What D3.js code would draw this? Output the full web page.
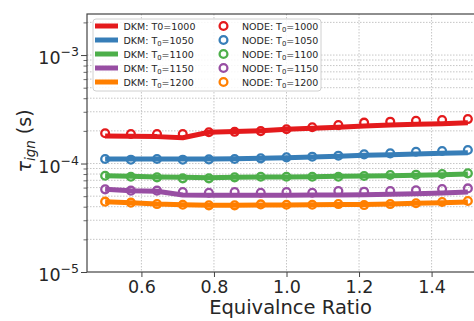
<!DOCTYPE html>
<html><head><meta charset="utf-8">
<script src="https://cdn.jsdelivr.net/npm/d3@7"></script>
<style>
body{margin:0;background:#fff}
svg{display:block}
text{font-family:"DejaVu Sans",sans-serif;fill:#262626}
</style></head>
<body><svg id="c" width="474" height="321"></svg>
<script>
// ---- data ----
const phi = [0.5, 0.571, 0.643, 0.714, 0.786, 0.857, 0.929, 1.0, 1.071, 1.143, 1.214, 1.286, 1.357, 1.429, 1.5];
const temps = [1000, 1050, 1100, 1150, 1200];
const colors = ["#e41a1c", "#377eb8", "#4daf4a", "#984ea3", "#ff7f00"];
const dkm1000 = [1.79,1.78,1.77,1.73,1.94,1.97,2.01,2.07,2.11,2.16,2.22,2.26,2.30,2.33,2.38].map(v=>v*1e-4);
const dkm1050 = [1.100,1.100,1.100,1.100,1.100,1.108,1.116,1.132,1.148,1.164,1.189,1.206,1.223,1.241,1.258].map(v=>v*1e-4);
const dkm1100 = [0.772,0.762,0.751,0.746,0.740,0.746,0.751,0.751,0.756,0.762,0.767,0.772,0.778,0.789,0.800].map(v=>v*1e-4);
const dkm1150 = [0.578,0.562,0.556,0.513,0.510,0.510,0.510,0.510,0.512,0.514,0.516,0.520,0.526,0.536,0.546].map(v=>v*1e-4);
const dkm1200 = [0.445,0.436,0.423,0.417,0.4115,0.4115,0.414,0.414,0.417,0.420,0.420,0.423,0.430,0.436,0.442].map(v=>v*1e-4);
const node1000 = [1.90,1.87,1.87,1.87,1.94,1.96,1.99,2.07,2.16,2.26,2.38,2.43,2.48,2.52,2.57].map(v=>v*1e-4);
const node1050 = [1.100,1.085,1.100,1.085,1.092,1.100,1.116,1.140,1.156,1.181,1.215,1.241,1.285,1.304,1.331].map(v=>v*1e-4);
const node1100 = [0.772,0.756,0.746,0.730,0.730,0.746,0.756,0.756,0.756,0.756,0.767,0.783,0.789,0.800,0.812].map(v=>v*1e-4);
const node1150 = [0.578,0.562,0.562,0.546,0.538,0.546,0.538,0.546,0.538,0.558,0.550,0.558,0.566,0.582,0.590].map(v=>v*1e-4);
const node1200 = [0.445,0.436,0.423,0.417,0.4115,0.4115,0.420,0.417,0.417,0.423,0.414,0.423,0.430,0.442,0.451].map(v=>v*1e-4);
const dkmSeries = [dkm1000, dkm1050, dkm1100, dkm1150, dkm1200];
const nodeSeries = [node1000, node1050, node1100, node1150, node1200];
const dkmLabels = ["DKM: T0=1000", "DKM: T_0=1050", "DKM: T_0=1100", "DKM: T_0=1150", "DKM: T_0=1200"];
const nodeLabels = ["NODE: T_0=1000", "NODE: T_0=1050", "NODE: T_0=1100", "NODE: T_0=1150", "NODE: T_0=1200"];
const xTicks = [0.6, 0.8, 1.0, 1.2, 1.4];
const xTickLabels = ["0.6", "0.8", "1.0", "1.2", "1.4"];
const yMajor = [1e-5, 1e-4, 1e-3];
const yExponents = ["\u22125", "\u22124", "\u22123"];
const yMinor = [2e-5,3e-5,4e-5,5e-5,6e-5,7e-5,8e-5,9e-5,2e-4,3e-4,4e-4,5e-4,6e-4,7e-4,8e-4,9e-4,2e-3];
const xDomain = [0.45, 1.55];
const yDomain = [1e-5, 2.39e-3];

// ---- layout ----
const L = 87, R = 486, T = 14, B = 272;
const svg = d3.select("#c");
const x = d3.scaleLinear(xDomain, [L, R]);
const y = d3.scaleLog(yDomain, [B, T]);

// grid
const grid = svg.append("g").attr("stroke", "#b8b8b8").attr("stroke-width", 0.8).attr("stroke-dasharray", "1.5,1.5");
grid.selectAll("line.gx").data(xTicks).join("line")
  .attr("x1", d => x(d)).attr("x2", d => x(d)).attr("y1", T).attr("y2", B);
grid.selectAll("line.gy").data(yMajor.concat(yMinor).filter(v => v > yDomain[0] && v < yDomain[1])).join("line")
  .attr("y1", d => y(d)).attr("y2", d => y(d)).attr("x1", L).attr("x2", R);

// clip
svg.append("clipPath").attr("id", "clip").append("rect").attr("x", L).attr("y", T).attr("width", R - L).attr("height", B - T);
const plot = svg.append("g");

const line = d3.line().x((d, i) => x(phi[i])).y(d => y(d));
dkmSeries.forEach((s, k) => {
  plot.append("path").datum(s).attr("d", line)
    .attr("fill", "none").attr("stroke", colors[k]).attr("stroke-width", 5)
    .attr("stroke-linejoin", "round").attr("stroke-linecap", "butt");
});
nodeSeries.forEach((s, k) => {
  plot.append("g").selectAll("circle").data(s).join("circle")
    .attr("cx", (d, i) => x(phi[i])).attr("cy", d => y(d)).attr("r", 3.9)
    .attr("fill", "none").attr("stroke", colors[k]).attr("stroke-width", 2.3);
});

// axes
const axCol = "#444";
const xAxis = svg.append("g").attr("transform", `translate(0,${B})`)
  .call(d3.axisBottom(x).tickValues(xTicks).tickFormat((d, i) => xTickLabels[i]).tickSize(5).tickPadding(4));
xAxis.select(".domain").remove();
xAxis.selectAll("line").attr("stroke", axCol).attr("stroke-width", 1);
xAxis.selectAll("text").attr("font-size", 17.5).attr("font-family", "DejaVu Sans").attr("fill", "#262626");

const yMinAxis = svg.append("g").attr("transform", `translate(${L},0)`)
  .call(d3.axisLeft(y).tickValues(yMinor.filter(v => v < yDomain[1])).tickFormat("").tickSize(3.5));
yMinAxis.select(".domain").remove();
yMinAxis.selectAll("line").attr("stroke", axCol).attr("stroke-width", 0.8);

const yMajAxis = svg.append("g").attr("transform", `translate(${L},0)`)
  .call(d3.axisLeft(y).tickValues(yMajor).tickFormat("").tickSize(6));
yMajAxis.select(".domain").remove();
yMajAxis.selectAll("line").attr("stroke", axCol).attr("stroke-width", 1);
yMajAxis.selectAll(".tick").each(function(d, i) {
  const t = d3.select(this).append("text").attr("x", -8).attr("y", 8.5)
    .attr("text-anchor", "end").attr("font-size", 17.5);
  t.append("tspan").text("10");
  t.append("tspan").attr("font-size", 12.5).attr("dy", -8).text(yExponents[i]);
});

// spines
svg.append("rect").attr("x", L).attr("y", T).attr("width", R - L).attr("height", B - T)
  .attr("fill", "none").attr("stroke", axCol).attr("stroke-width", 1.2);

// axis labels
svg.append("text").attr("x", (L + R) / 2 + 4).attr("y", 314).attr("text-anchor", "middle")
  .attr("font-size", 19.5).text("Equivalnce Ratio");
const yl = svg.append("text").attr("transform", `translate(31,${(T + B) / 2 - 2}) rotate(-90)`)
  .attr("text-anchor", "middle").attr("font-size", 19);
yl.append("tspan").attr("font-style", "italic").text("\u03c4");
yl.append("tspan").attr("font-style", "italic").attr("font-size", 13.5).attr("dy", 4).text("ign");
yl.append("tspan").attr("dy", -4).text(" (s)");

// legend
const lg = svg.append("g");
lg.append("rect").attr("x", 93).attr("y", 19).attr("width", 228).attr("height", 72).attr("rx", 3)
  .attr("fill", "#fff").attr("fill-opacity", 0.85).attr("stroke", "#d0d0d0").attr("stroke-width", 1);
function labelText(g, xx, yy, s) {
  const t = g.append("text").attr("x", xx).attr("y", yy).attr("font-size", 9.5);
  const parts = s.split("_");
  t.append("tspan").text(parts[0]);
  if (parts.length > 1) {
    t.append("tspan").attr("font-size", 6.8).attr("dy", 2).text(parts[1].slice(0, 1));
    t.append("tspan").attr("dy", -2).text(parts[1].slice(1));
  }
}
dkmLabels.forEach((s, k) => {
  const cy = 26 + k * 14;
  lg.append("line").attr("x1", 95).attr("x2", 118).attr("y1", cy).attr("y2", cy)
    .attr("stroke", colors[k]).attr("stroke-width", 5);
  labelText(lg, 123.5, cy + 3.5, s);
});
nodeLabels.forEach((s, k) => {
  const cy = 26 + k * 14;
  lg.append("circle").attr("cx", 223.5).attr("cy", cy).attr("r", 3.9)
    .attr("fill", "none").attr("stroke", colors[k]).attr("stroke-width", 2.3);
  labelText(lg, 242, cy + 3.5, s);
});
</script></body></html>
